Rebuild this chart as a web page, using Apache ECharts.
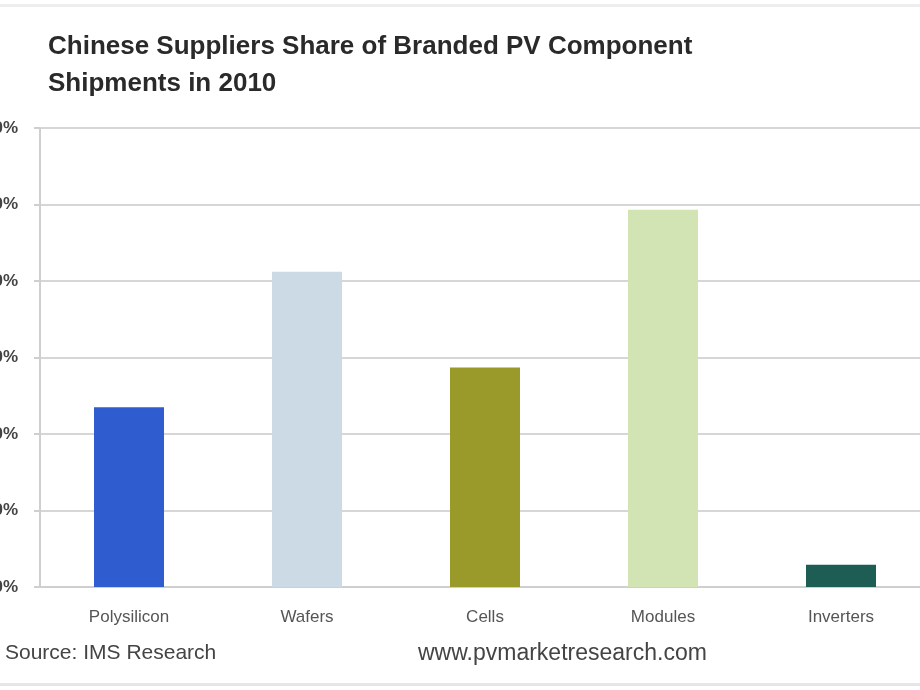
<!DOCTYPE html>
<html><head><meta charset="utf-8">
<script src="https://cdn.jsdelivr.net/npm/echarts@6/dist/echarts.min.js"></script>
<style>html,body{margin:0;padding:0;background:#fff}#c{width:920px;height:690px}</style>
</head><body><div id="c"></div>
<script>
var categories = ['Polysilicon', 'Wafers', 'Cells', 'Modules', 'Inverters'];
var shares = [23.5, 41.2, 28.7, 49.3, 2.9];
var barColors = ['#2f5ccf', '#cbdae4', '#9a9a2a', '#d2e4b3', '#1d5d53'];
var yTicks = [0, 10, 20, 30, 40, 50, 60];
var titleText = 'Chinese Suppliers Share of Branded PV Component\nShipments in 2010';
var sourceText = 'Source: IMS Research';
var urlText = 'www.pvmarketresearch.com';

var chart = echarts.init(document.getElementById('c'), null, {renderer: 'canvas'});
chart.setOption({
  animation: false,
  backgroundColor: '#ffffff',
  title: {
    text: titleText, left: 43, top: 23,
    textStyle: {fontFamily: 'Liberation Sans', fontWeight: 'bold', fontSize: 26, color: '#2a2a2a', lineHeight: 37}
  },
  grid: {left: 40, top: 128, width: 890, height: 459, containLabel: false, outerBoundsMode: 'none'},
  xAxis: {
    type: 'category', data: categories,
    axisLine: {show: true, lineStyle: {color: '#cfcfcf', width: 2}},
    axisTick: {show: false},
    axisLabel: {color: '#555', fontSize: 17, fontFamily: 'Liberation Sans', margin: 22}
  },
  yAxis: {
    type: 'value', min: yTicks[0], max: yTicks[yTicks.length - 1], interval: 10,
    axisLine: {show: true, lineStyle: {color: '#cfcfcf', width: 2}},
    axisTick: {show: true, length: 6, lineStyle: {color: '#cfcfcf', width: 2}},
    axisLabel: {formatter: '{value}%', color: '#444', fontSize: 17, fontFamily: 'Liberation Sans', fontWeight: 'bold', margin: 22},
    splitLine: {show: true, lineStyle: {color: '#d6d6d6', width: 2}}
  },
  series: [{
    type: 'bar', barWidth: 70,
    data: shares.map(function (v, i) { return {value: v, itemStyle: {color: barColors[i]}}; })
  }],
  graphic: [
    {type: 'text', left: 5, top: 643, style: {text: sourceText, fontFamily: 'Liberation Sans', fontSize: 21, fill: '#444'}},
    {type: 'text', left: 418, top: 642, style: {text: urlText, fontFamily: 'Liberation Sans', fontSize: 23, fill: '#444'}},
    {type: 'rect', shape: {x: 0, y: 683, width: 920, height: 3}, style: {fill: '#e6e6e6'}},
    {type: 'rect', shape: {x: 0, y: 4, width: 920, height: 3}, style: {fill: '#eeeeee'}}
  ]
});
</script></body></html>
